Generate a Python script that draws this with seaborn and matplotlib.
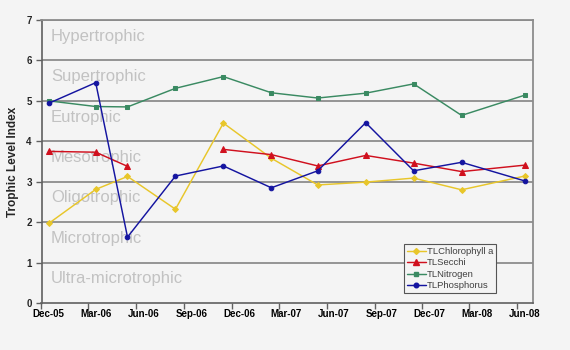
import matplotlib
matplotlib.use("Agg")
import matplotlib.pyplot as plt
import matplotlib.dates as mdates
from matplotlib.lines import Line2D
import matplotlib.transforms as mtransforms
import numpy as np
import pandas as pd
import seaborn as sns

# ---- data ----
dates = ["2005-12-15", "2006-03-15", "2006-05-15", "2006-08-15", "2006-11-15",
         "2007-02-15", "2007-05-15", "2007-08-15", "2007-11-15", "2008-02-15",
         "2008-06-15"]
chlorophyll = [1.97, 2.81, 3.13, 2.32, 4.45, 3.58, 2.92, 2.99, 3.09, 2.80, 3.14]
secchi = [3.75, 3.73, 3.38, np.nan, 3.80, 3.67, 3.39, 3.65, 3.46, 3.25, 3.41]
nitrogen = [5.00, 4.86, 4.85, 5.31, 5.60, 5.20, 5.07, 5.19, 5.42, 4.64, 5.14]
phosphorus = [4.94, 5.45, 1.63, 3.14, 3.39, 2.85, 3.27, 4.46, 3.27, 3.48, 3.02]

series_names = ["TLChlorophyll a", "TLSecchi", "TLNitrogen", "TLPhosphorus"]
zone_labels = ["Ultra-microtrophic", "Microtrophic", "Oligotrophic", "Mesotrophic",
               "Eutrophic", "Supertrophic", "Hypertrophic"]
tick_months = ["2005-12-15", "2006-03-15", "2006-06-15", "2006-09-15", "2006-12-15",
               "2007-03-15", "2007-06-15", "2007-09-15", "2007-12-15", "2008-03-15",
               "2008-06-15"]

colors = ["#e8c62a", "#d0101e", "#3a8a62", "#1414a0"]
markers = ["D", "^", "s", "o"]
msizes = [3.0, 4.0, 3.5, 3.3]

bg = "#f4f4f4"
sns.set_theme(style="white")
plt.rcParams["font.family"] = ["Liberation Sans", "DejaVu Sans"]

fig = plt.figure(figsize=(5.7, 3.5), dpi=100, facecolor=bg)
ax = fig.add_axes([41.5 / 570, 47 / 350, (533 - 41.5) / 570, (303 - 20) / 350])
ax.set_facecolor(bg)

x = pd.to_datetime(dates)
values = [chlorophyll, secchi, nitrogen, phosphorus]

for name, vals, c, m, ms in zip(series_names, values, colors, markers, msizes):
    df = pd.DataFrame({"date": x, "value": vals})
    df["seg"] = df["value"].isna().cumsum()
    df = df.dropna()
    sns.lineplot(data=df, x="date", y="value", units="seg", estimator=None,
                 color=c, marker=m, markersize=ms, markeredgecolor=c,
                 linewidth=1.05, ax=ax, legend=False)

ax.set_xlim(pd.Timestamp("2005-12-01"), pd.Timestamp("2008-07-01"))
ax.set_ylim(0, 7)

# horizontal grid lines
for yv in range(1, 8):
    ax.axhline(yv, color="#8c8c8c", linewidth=1.3, zorder=0.5)

# zone labels
trans = mtransforms.blended_transform_factory(ax.transAxes, ax.transData)
for i, lab in enumerate(zone_labels):
    ax.text(0.019, i + 0.6, lab, transform=trans, fontsize=12, color="#c2c2c2",
            va="center", ha="left", zorder=0.6)

# x axis: major ticks at month starts (no labels), labels at mid-month
major = pd.to_datetime([t[:8] + "01" for t in tick_months])
ax.set_xticks(major)
ax.set_xticklabels([])
ax.set_xticks(pd.to_datetime(tick_months), minor=True)
ax.xaxis.set_minor_formatter(mdates.DateFormatter("%b-%y"))
ax.tick_params(axis="x", which="major", direction="out", length=4, width=1,
               color="#606060", bottom=True)
ax.tick_params(axis="x", which="minor", length=0, labelsize=7, pad=4, bottom=True)
for lbl in ax.get_xticklabels(minor=True):
    lbl.set_fontweight("bold")
    lbl.set_color("black")

ax.set_yticks(range(0, 8))
ax.tick_params(axis="y", direction="out", length=4, width=1, color="#606060",
               labelsize=7, pad=3, left=True)
for lbl in ax.get_yticklabels():
    lbl.set_fontweight("bold")

ax.set_xlabel("")
ax.set_ylabel("Trophic Level Index", fontsize=8.5, fontweight="bold", labelpad=5)

for side in ["left", "bottom"]:
    ax.spines[side].set_color("#606060")
    ax.spines[side].set_linewidth(1.2)
for side in ["right", "top"]:
    ax.spines[side].set_color("#8c8c8c")
    ax.spines[side].set_linewidth(1.3)

handles = [Line2D([0], [0], color=c, marker=m, markersize=ms, markeredgecolor=c,
                  linewidth=1.05)
           for c, m, ms in zip(colors, markers, msizes)]
leg = fig.legend(handles, series_names, loc="lower left",
                 bbox_to_anchor=(404 / 570, 57 / 350), fontsize=6.8,
                 frameon=True, fancybox=False, framealpha=1, facecolor=bg,
                 edgecolor="#555555", handlelength=2.0, labelspacing=0.25,
                 borderpad=0.3, handletextpad=0.15, borderaxespad=0)
leg.get_frame().set_linewidth(0.8)
for t in leg.get_texts():
    t.set_color("#404040")

fig.savefig("out.png", dpi=100, facecolor=bg)
